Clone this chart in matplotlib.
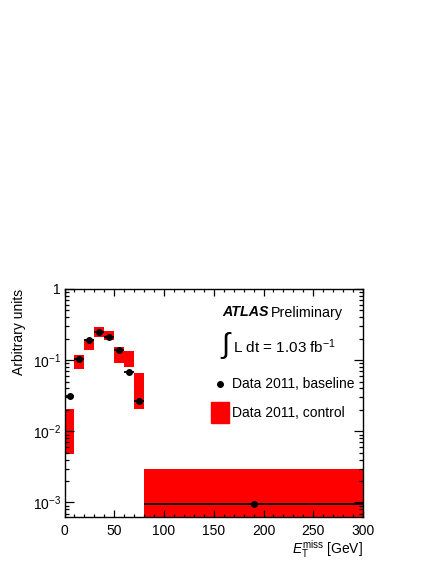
import numpy as np
import matplotlib
matplotlib.use('Agg')
import matplotlib.pyplot as plt
from matplotlib.ticker import MultipleLocator, LogLocator, FixedLocator, NullFormatter

plt.rcParams['font.family'] = ['Liberation Sans', 'DejaVu Sans']
plt.rcParams['mathtext.fontset'] = 'custom'
plt.rcParams['mathtext.rm'] = 'Liberation Sans'
plt.rcParams['mathtext.it'] = 'Liberation Sans:italic'
plt.rcParams['mathtext.bf'] = 'Liberation Sans:bold'

# binning (GeV)
bin_lo = [0, 10, 20, 30, 40, 50, 60, 70, 80]
bin_hi = [10, 20, 30, 40, 50, 60, 70, 80, 300]
bin_mid = [5, 15, 25, 35, 45, 55, 65, 75, 190]

# baseline data (black points)
baseline = [0.031, 0.103, 0.193, 0.245, 0.215, 0.141, 0.068, 0.027, 0.00096]

# control data (red bands): central value and error
control_val = [0.0128, 0.0965, 0.169, 0.2515, 0.224, 0.121, 0.108, 0.043, 0.0015]
control_err = [0.0080, 0.0215, 0.029, 0.0365, 0.035, 0.030, 0.028, 0.0225, 0.0015]

bin_lo = np.array(bin_lo, float)
bin_hi = np.array(bin_hi, float)
bin_mid = np.array(bin_mid, float)
baseline = np.array(baseline)
control_val = np.array(control_val)
control_err = np.array(control_err)

W, H = 436, 564


def fx(px):
    return px / W


def fy(py):
    return 1 - py / H


fig = plt.figure(figsize=(4.36, 5.64), dpi=100)
ax = fig.add_axes([0.148, 0.0833, 0.6847, 0.4043])

# red error bands
lo = np.maximum(control_val - control_err, 1e-6)
hi = control_val + control_err
ax.bar(bin_lo, hi - lo, bottom=lo, width=bin_hi - bin_lo, align='edge',
       color='#ff0000', linewidth=0, zorder=1)

# black points with bin-width horizontal bars
ax.errorbar(bin_mid, baseline, xerr=[bin_mid - bin_lo, bin_hi - bin_mid],
            fmt='o', color='black', markersize=4, elinewidth=1.3,
            capsize=0, zorder=3)

ax.set_yscale('log')
ax.set_xlim(0, 300)
ax.set_ylim(6.25e-4, 1)

ax.xaxis.set_major_locator(MultipleLocator(50))
ax.xaxis.set_minor_locator(MultipleLocator(10))
ax.yaxis.set_major_locator(FixedLocator([1e-3, 1e-2, 1e-1, 1]))
ax.yaxis.set_minor_locator(LogLocator(base=10, subs=np.arange(2, 10), numticks=20))
ax.yaxis.set_minor_formatter(NullFormatter())
ax.set_yticklabels([r'$\mathregular{10^{-3}}$', r'$\mathregular{10^{-2}}$',
                    r'$\mathregular{10^{-1}}$', '1'])

# ROOT style ticks: inward on all sides, y ticks longer than x ticks
ax.tick_params(which='both', direction='in', top=True, right=True,
               labelsize=10, width=0.9)
ax.tick_params(axis='x', which='major', length=4.9, pad=5)
ax.tick_params(axis='x', which='minor', length=2.4)
ax.tick_params(axis='y', which='major', length=6.5, pad=2.5)
ax.tick_params(axis='y', which='minor', length=3.2)
for s in ax.spines.values():
    s.set_linewidth(1.0)

# axis labels
fig.text(0.0425, 0.4876, 'Arbitrary units', rotation=90, ha='center', va='top', fontsize=10)
fig.text(fx(363), fy(549), r'$E_{\mathrm{T}}^{\mathrm{miss}}$ [GeV]',
         ha='right', va='center', fontsize=10)

# annotations
fig.text(fx(222), fy(312.5), 'ATLAS', fontsize=10.3, fontweight='bold',
         fontstyle='italic', ha='left', va='center')
fig.text(fx(271), fy(312.5), 'Preliminary', fontsize=10.3, ha='left', va='center')
fig.text(fx(221), fy(345), '\u222b', fontsize=21, ha='left', va='center')
fig.text(fx(233), fy(347), r'L dt = 1.03 fb$^{\mathregular{-1}}$',
         fontsize=11, ha='left', va='center')

# legend drawn by hand
fig.lines.append(plt.Line2D([fx(220)], [fy(384)], marker='o', color='black',
                            markersize=4, transform=fig.transFigure))
fig.patches.append(plt.Rectangle((fx(211), fy(422.7)), 18 / W, 20.4 / H,
                                 color='#ff0000', transform=fig.transFigure))
fig.text(fx(232), fy(384), 'Data 2011, baseline', fontsize=10, ha='left', va='center')
fig.text(fx(232), fy(413), 'Data 2011, control', fontsize=10, ha='left', va='center')

fig.savefig('out.png', dpi=100)
